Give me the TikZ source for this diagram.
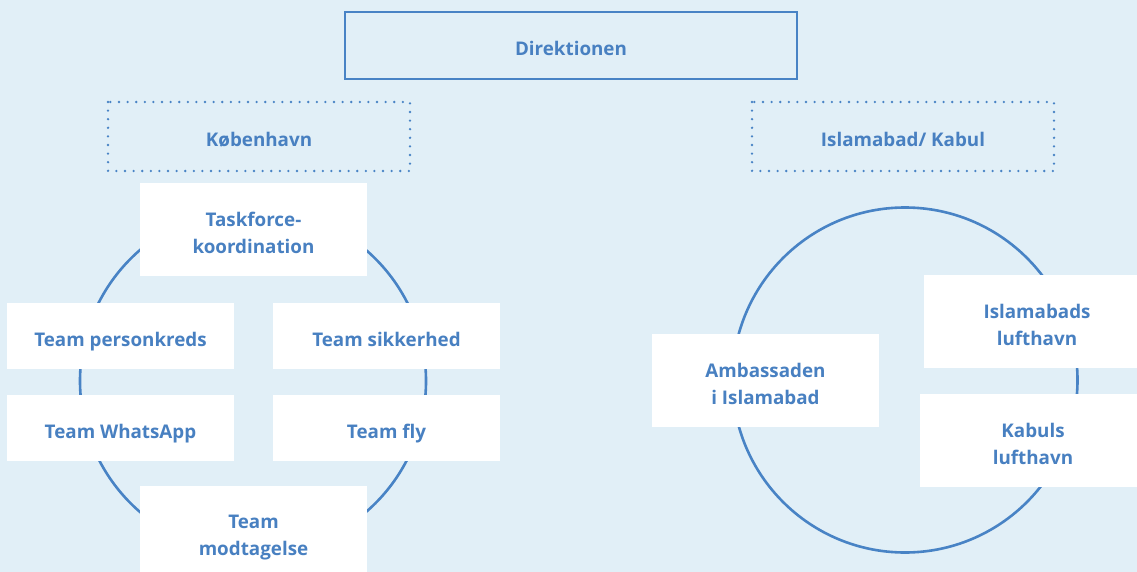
\documentclass[tikz,border=0pt]{standalone}
\usepackage{fontspec}
\setmainfont{Open Sans}
\definecolor{bgc}{RGB}{225,239,247}
\definecolor{linec}{RGB}{72,131,197}
\definecolor{txtc}{RGB}{72,128,193}
\begin{document}
\begin{tikzpicture}[x=1pt,y=-1pt,
  lbl/.style={font=\fontsize{18.8}{27}\selectfont\bfseries, text=txtc, align=center},
  one/.style={lbl, anchor=base},
  wbox/.style={fill=white, draw=none},
  dotbox/.style={draw=linec, line width=2.6pt, line cap=round, dash pattern=on 0pt off 8.6pt},
  ring/.style={draw=linec, line width=2.6pt}]
\fill[bgc] (0,0) rectangle (1137,572);
\useasboundingbox (0,0) rectangle (1137,572);
% top box
\draw[linec, line width=2.6pt] (345,12) rectangle (797,79);
\node[one] (dir) at (571,56) {Direktionen};
% dotted boxes
\draw[dotbox] (108,102) rectangle (410,171);
\node[one] (kbh) at (259,146.5) {København};
\draw[dotbox] (752,102) rectangle (1054,171);
\node[one] (isl) at (903,146.5) {Islamabad/ Kabul};
% circles
\draw[ring] (253,381) circle (173);
\draw[ring] (905,380) circle (172.5);
% left boxes
\fill[wbox] (140,183) rectangle (367,276);
\node[lbl] (tf) at (253.5,233) {Taskforce-\\koordination};
\fill[wbox] (7,303) rectangle (234,369);
\node[one] (tp) at (120.5,346) {Team personkreds};
\fill[wbox] (273,303) rectangle (500,369);
\node[one] (ts) at (386.5,346) {Team sikkerhed};
\fill[wbox] (7,395) rectangle (234,461);
\node[one] (tw) at (120.5,438) {Team WhatsApp};
\fill[wbox] (273,395) rectangle (500,461);
\node[one] (tfly) at (386.5,438) {Team fly};
\fill[wbox] (140,486) rectangle (367,580);
\node[lbl] (tm) at (253.5,538) {Team\\modtagelse};
% right boxes
\fill[wbox] (652,334) rectangle (879,427);
\node[lbl] (amb) at (765.5,384) {Ambassaden\\i Islamabad};
\fill[wbox] (924,275) rectangle (1140,368);
\node[lbl] (il) at (1037,325) {Islamabads\\lufthavn};
\fill[wbox] (920,394) rectangle (1140,487);
\node[lbl] (kl) at (1033,444) {Kabuls\\lufthavn};
\end{tikzpicture}
\end{document}
